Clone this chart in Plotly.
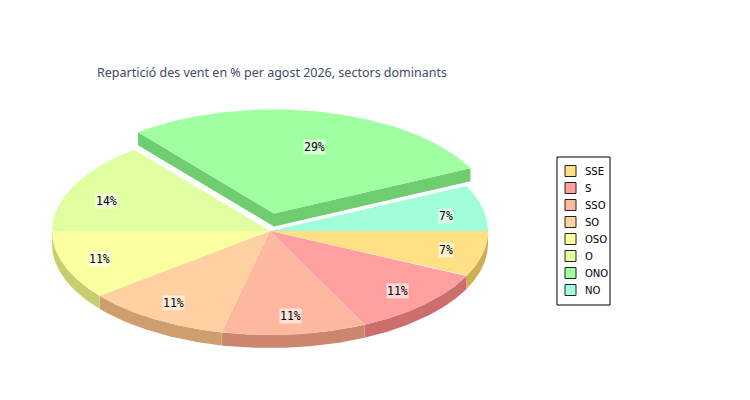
"""
    Wind direction share for August 2026, drawn as a tilted (3D-look) pie.
"""

##########==========##########==========##########==========##########==========##########==========
## HEADER
import numpy as np
import plotly.graph_objects as go

## data, in legend order (slices run clockwise from 3 o'clock in this order)
sectors = ['SSE', 'S', 'SSO', 'SO', 'OSO', 'O', 'ONO', 'NO']
counts = [2, 3, 3, 3, 3, 4, 8, 2]
exploded = ['ONO']
top_colors = ['#FFE084', '#FFA0A0', '#FFB8A0', '#FFD0A0', '#FAFFA0', '#E0FFA0', '#A0FFA0', '#A0FFD8']
title_text = 'Repartició des vent en % per agost 2026, sectors dominants'

## the page body has an 8px margin, so the canvas is shrunk by it and the axes start at 8
params = dict(
    width = 750, height = 400, pad = 8,
    cx = 270, cy = 231, rx = 218, ry = 104,
    depth = 13, explode = 18, n_arc = 80,
    label_font = 'DejaVu Sans Mono', legend_font = 'DejaVu Sans',
    title_font = 'Noto Sans', title_color = '#3F4A66'
)

##########==========##########==========##########==========##########==========##########==========
## COMPONENT FUNCTIONS


def darker(hex_color, amount = 50):
    """
        Purpose: side colour of a slice, a flat step darker than its top
    """
    rgb = [int(hex_color[i:i + 2], 16) for i in (1, 3, 5)]
    return 'rgb({},{},{})'.format(*[max(0, v - amount) for v in rgb])


def set_up_figure(params = params) -> go.Figure:
    """
        Purpose: blank canvas where one axis unit is one screen pixel
    """
    p = params['pad']
    fig = go.Figure()
    fig = fig.update_layout(
        width = params['width'] - p, height = params['height'] - p,
        plot_bgcolor = 'white', paper_bgcolor = 'white',
        margin = dict(t = 0, l = 0, b = 0, r = 0),
        showlegend = False,
        xaxis = dict(range = [p, params['width']], visible = False, fixedrange = True),
        yaxis = dict(range = [params['height'], p], visible = False, fixedrange = True),
    )
    return fig


def slice_geometry(params = params):
    """
        Purpose: angles (deg, counter-clockwise) and offsets of every slice
    """
    total = sum(counts)
    cum = np.cumsum([0] + counts) / total
    out = list()
    for i, name in enumerate(sectors):
        a_lo = 360 - cum[i + 1] * 360
        a_hi = 360 - cum[i] * 360
        mid = np.radians((a_lo + a_hi) / 2)
        e = params['explode'] if name in exploded else 0
        out.append(dict(
            name = name, lo = a_lo, hi = a_hi, mid = mid,
            ox = e * np.cos(mid), oy = -e * np.sin(mid),
            pct = '{:.0f}%'.format(100 * counts[i] / total),
            top = top_colors[i], side = darker(top_colors[i])
        ))
    return out


def ellipse_pts(s, a0, a1, drop = 0, params = params):
    """
        Purpose: points on the rim of slice s between angles a0 and a1
    """
    a = np.radians(np.linspace(a0, a1, params['n_arc']))
    x = params['cx'] + s['ox'] + params['rx'] * np.cos(a)
    y = params['cy'] + s['oy'] - params['ry'] * np.sin(a) + drop
    return x, y


def draw_slice(s, params = params):
    """
        Purpose: side faces and top face of one slice
    """
    traces = list()
    d = params['depth']
    cx, cy = params['cx'] + s['ox'], params['cy'] + s['oy']
    fill = dict(mode = 'lines', fill = 'toself', line = dict(width = 0), hoverinfo = 'skip')

    ## front rim strip
    f0, f1 = max(s['lo'], 180), min(s['hi'], 360)
    if f0 < f1:
        x1, y1 = ellipse_pts(s, f0, f1)
        x2, y2 = ellipse_pts(s, f1, f0, drop = d)
        traces.append(go.Scatter(x = np.r_[x1, x2], y = np.r_[y1, y2], fillcolor = s['side'], **fill))

    ## radial faces, only seen when the slice is pulled out
    if s['name'] in exploded:
        for ang in (s['lo'], s['hi']):
            px, py = ellipse_pts(s, ang, ang)
            traces.append(go.Scatter(
                x = [cx, px[0], px[0], cx], y = [cy, py[0], py[0] + d, cy + d],
                fillcolor = s['side'], **fill))

    ## top face
    x, y = ellipse_pts(s, s['lo'], s['hi'])
    traces.append(go.Scatter(
        x = np.r_[cx, x, cx], y = np.r_[cy, y, cy], mode = 'lines', fill = 'toself',
        fillcolor = s['top'], line = dict(width = 0), name = s['name'],
        hovertemplate = s['name'] + ': ' + s['pct'] + '<extra></extra>'))
    return traces


def draw_labels(geo, params = params):
    """
        Purpose: percentage tags sitting on each slice
    """
    notes = list()
    for s in geo:
        fy = 0.82 if np.sin(s['mid']) < 0 else 0.66
        notes.append(dict(
            x = params['cx'] + s['ox'] + 0.83 * params['rx'] * np.cos(s['mid']),
            y = params['cy'] + s['oy'] - fy * params['ry'] * np.sin(s['mid']),
            xref = 'x', yref = 'y', text = s['pct'], showarrow = False,
            font = dict(family = params['label_font'], size = 11.5, color = 'black'),
            bgcolor = 'rgba(255,255,255,0.6)', borderpad = 0
        ))
    return notes


def draw_legend(geo, params = params):
    """
        Purpose: boxed legend on the right, one coloured square per sector
    """
    x0, y0, row = 557, 157, 17
    shapes = [dict(type = 'rect', xref = 'x', yref = 'y', x0 = x0, x1 = x0 + 53,
                   y0 = y0, y1 = y0 + 148, line = dict(color = 'black', width = 1),
                   fillcolor = 'white', layer = 'above')]
    notes = list()
    for i, s in enumerate(geo):
        yc = y0 + 14 + i * row
        shapes.append(dict(type = 'rect', xref = 'x', yref = 'y', x0 = x0 + 8, x1 = x0 + 19,
                           y0 = yc - 5.5, y1 = yc + 5.5, fillcolor = s['top'],
                           line = dict(color = '#222222', width = 1), layer = 'above'))
        notes.append(dict(
            x = x0 + 26, y = yc, xref = 'x', yref = 'y', xanchor = 'left', text = s['name'],
            showarrow = False, font = dict(family = params['legend_font'], size = 10, color = 'black')))
    return shapes, notes


##########==========##########==========##########==========##########==========##########==========
## TOP-LEVEL FUNCTION

def draw_pie():
    fig = set_up_figure()
    geo = slice_geometry()

    ## pulled-out slice sits at the back, so paint it first
    for s in geo:
        if s['name'] in exploded:
            fig = fig.add_traces(draw_slice(s))
    rest = [s for s in geo if s['name'] not in exploded]
    sides = [t for s in rest for t in draw_slice(s)[:-1]]
    tops = [draw_slice(s)[-1] for s in rest]
    fig = fig.add_traces(sides + tops)

    shapes, legend_notes = draw_legend(geo)
    title = dict(
        x = 95, y = 72, xref = 'x', yref = 'y', xanchor = 'left', text = title_text, showarrow = False,
        font = dict(family = params['title_font'], size = 12.5, color = params['title_color']))
    fig = fig.update_layout(shapes = shapes, annotations = draw_labels(geo) + legend_notes + [title])
    fig.write_html('out.html')
    return fig


if __name__ == '__main__':
    draw_pie()

##########==========##########==========##########==========##########==========##########==========
